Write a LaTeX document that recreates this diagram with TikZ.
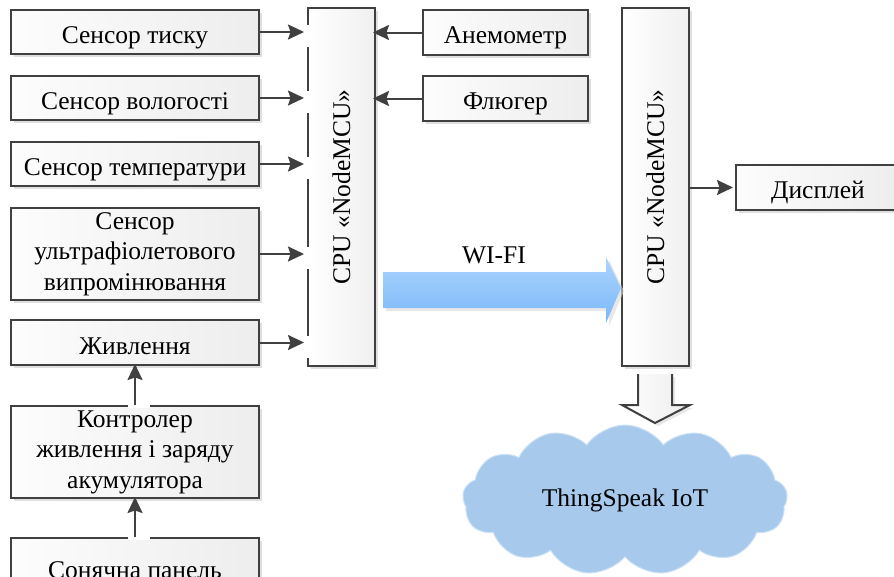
\documentclass[tikz,border=0pt]{standalone}
\usepackage{fontspec}
\setmainfont{Liberation Serif}
\usetikzlibrary{arrows.meta,shapes.symbols,shadows,calc}
\definecolor{lineC}{RGB}{64,64,64}
\definecolor{wifiTop}{RGB}{172,212,252}
\definecolor{wifiBot}{RGB}{122,184,250}
\definecolor{cloudfill}{RGB}{166,201,236}
\definecolor{cloudline}{RGB}{205,225,245}
\tikzset{
  box/.style={draw=lineC, line width=2pt, left color=gray!2, right color=gray!14,
    minimum width=248pt, minimum height=44pt, align=center, inner sep=2pt,
    font=\fontsize{25.5}{30.5}\selectfont, execute at begin node={\rule{0pt}{28pt}},
    drop shadow={shadow xshift=3pt, shadow yshift=-3pt, fill=gray!35, opacity=0.7}},
  onebox/.style={box, execute at begin node={\rule[-5pt]{0pt}{32pt}}},
  cpubox/.style={box, minimum width=67pt, minimum height=358pt, left color=white, right color=gray!12},
  arr/.style={draw=lineC, line width=2pt, -{Stealth[length=16pt,width=15pt,inset=2.5pt]}},
  gapbox/.style={fill=white},
}
\begin{document}
\begin{tikzpicture}[x=1pt,y=-1pt]
\useasboundingbox (0,0) rectangle (894,576);
% left column
\node[onebox] (tisk) at (135,32) {Сенсор тиску};
\node[onebox] (volog) at (135,98) {Сенсор вологості};
\node[onebox] (temp) at (135,164) {Сенсор температури};
\node[box, minimum height=92pt] (uf) at (135,254) {Сенсор\\ультрафіолетового\\випромінювання};
\node[onebox, minimum height=45pt] (zhyv) at (135,342.5) {Живлення};
\node[box, minimum height=92pt] (kontr) at (135,452) {Контролер\\живлення і заряду\\акумулятора};
\node[onebox, minimum height=58pt] (sun) at (135,567) {Сонячна панель};
% CPUs
\node[cpubox] (cpu1) at (341.5,187) {};
\node[rotate=90, font=\fontsize{25.5}{30.5}\selectfont] (cpu1t) at (cpu1) {CPU «NodeMCU»};
\node[cpubox] (cpu2) at (655.5,187) {};
\node[rotate=90, font=\fontsize{25.5}{30.5}\selectfont] (cpu2t) at (cpu2) {CPU «NodeMCU»};
% right sensors
\node[onebox, minimum width=165pt, minimum height=45pt] (anem) at (505.5,32.5) {Анемометр};
\node[onebox, minimum width=165pt, minimum height=45pt] (flug) at (505.5,98.5) {Флюгер};
\node[onebox, minimum width=164pt, minimum height=45pt] (disp) at (818,187.5) {Дисплей};
% gaps in borders
\foreach \n in {tisk,volog,temp,uf,zhyv}{
  \fill[gapbox] ($(\n.east -| cpu1.west)+(-3,-7)$) rectangle ++(6,22);
}
\fill[gapbox] ($(kontr.north)+(-7,-3)$) rectangle ++(22,6);
\fill[gapbox] ($(sun.north)+(-7,-3)$) rectangle ++(22,6);
% arrows
\foreach \n in {tisk,volog,temp,uf,zhyv}{
  \draw[arr, shorten >=3pt] (\n.east) -- (\n.east -| cpu1.west);
}
\draw[arr, shorten >=-3pt] (anem.west) -- (anem.west -| cpu1.east);
\draw[arr, shorten >=-3pt] (flug.west) -- (flug.west -| cpu1.east);
\draw[arr, shorten >=2pt] (cpu2.east |- disp.west) -- (disp.west);
\draw[arr, shorten >=-2pt] (kontr.north) -- (zhyv.south);
\draw[arr, shorten >=-2pt] (sun.north) -- (kontr.south);
% WI-FI arrow
\coordinate (wtip) at (cpu2.west |- 0,288);
\path[top color=wifiTop, bottom color=wifiBot,
  drop shadow={shadow xshift=3pt, shadow yshift=-3pt, fill=gray!30, opacity=0.6}]
  (383,272) -- (606,272) -- (606,257) -- (wtip) -- (606,323) -- (606,308) -- (383,308) -- cycle;
\node[font=\fontsize{25.5}{30.5}\selectfont] (wifi) at (494,255) {WI-FI};
% cloud
\node[cloud, cloud puffs=13, cloud puff arc=110, aspect=2.2, minimum width=325pt, minimum height=150pt,
  fill=cloudfill, draw=cloudline, line width=1pt, font=\fontsize{25.5}{30.5}\selectfont] (cloud) at (625,500) {ThingSpeak IoT};
% hollow down arrow
\fill[left color=white, right color=gray!15,
  drop shadow={shadow xshift=3pt, shadow yshift=-3pt, fill=gray!30, opacity=0.6}]
  (638,374) -- (638,405) -- (622,405) -- (655,423) -- (690,405) -- (672,405) -- (672,374) -- cycle;
\draw[lineC, line width=2pt, line join=miter]
  (638,374) -- (638,405) -- (622,405) -- (655,423) -- (690,405) -- (672,405) -- (672,374);
\end{tikzpicture}
\end{document}
